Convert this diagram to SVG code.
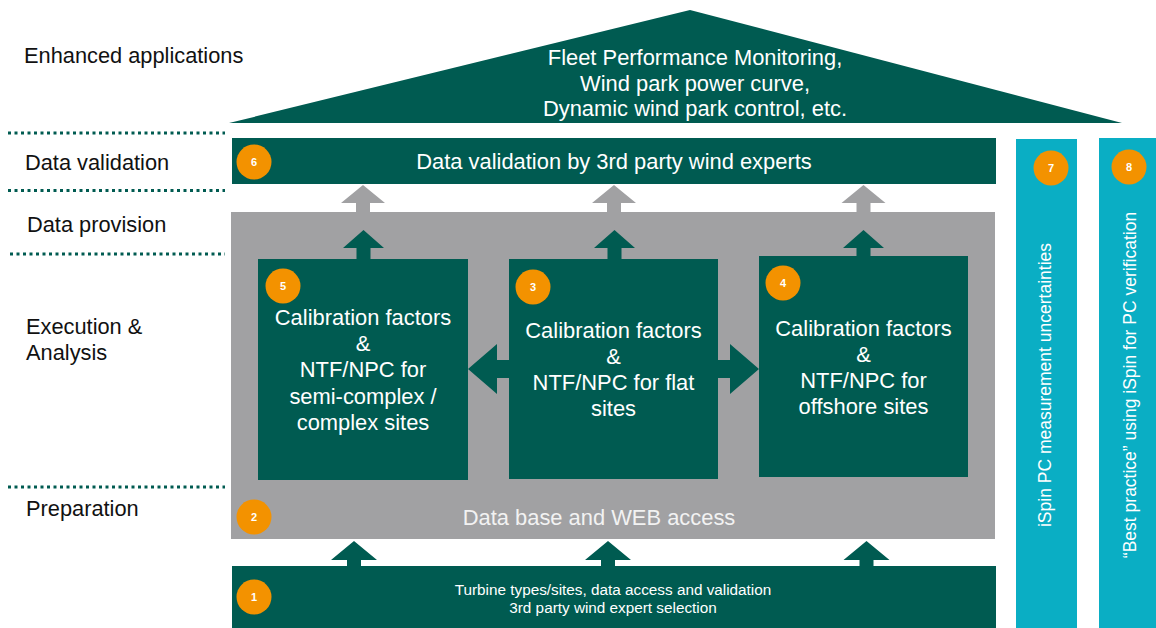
<svg xmlns="http://www.w3.org/2000/svg" width="1156" height="628" viewBox="0 0 1156 628">
<style>
.lbl{font-family:"Liberation Sans",Arial,sans-serif;font-size:21.8px;fill:#111}
.wt{font-family:"Liberation Sans",Arial,sans-serif;font-size:21.9px;fill:#fff;text-anchor:middle}
.sm{font-family:"Liberation Sans",Arial,sans-serif;font-size:15.3px;fill:#fff;text-anchor:middle}
.vt{font-family:"Liberation Sans",Arial,sans-serif;font-size:17.5px;fill:#fff;text-anchor:middle}
.num{font-family:"Liberation Sans",Arial,sans-serif;font-size:11px;font-weight:bold;fill:#fff;text-anchor:middle}
.dg{fill:#005B51}
.gr{fill:#A1A1A3}
.cy{fill:#0AAEC4}
.or{fill:#F39200}
.dot{stroke:#005B51;stroke-width:3;stroke-dasharray:3 3.5;fill:none}
</style>
<g id="labels">
<text class="lbl" x="24" y="63">Enhanced applications</text>
<text class="lbl" x="25" y="170">Data validation</text>
<text class="lbl" x="27" y="232">Data provision</text>
<text class="lbl" x="26" y="334">Execution &amp;</text>
<text class="lbl" x="26" y="360">Analysis</text>
<text class="lbl" x="26" y="516">Preparation</text>
<line class="dot" x1="8" y1="133" x2="225" y2="133"/>
<line class="dot" x1="8" y1="190.5" x2="225" y2="190.5"/>
<line class="dot" x1="10" y1="254" x2="225" y2="254"/>
<line class="dot" x1="8" y1="487" x2="225" y2="487"/>
</g>
<g id="roof">
<polygon class="dg" points="229,123 690,10 1122,123"/>
<text class="wt" x="695" y="65">Fleet Performance Monitoring,</text>
<text class="wt" x="695" y="90.5">Wind park power curve,</text>
<text class="wt" x="695" y="116">Dynamic wind park control, etc.</text>
</g>
<g id="node6">
<rect class="dg" x="232" y="138" width="764" height="46"/>
<circle class="or" cx="254" cy="162" r="17.5"/>
<text class="num" x="254" y="166">6</text>
<text class="wt" x="614" y="169">Data validation by 3rd party wind experts</text>
</g>
<g id="node2">
<rect class="gr" x="231" y="212" width="764" height="327"/>
<circle class="or" cx="254" cy="517" r="17.5"/>
<text class="num" x="254" y="521">2</text>
<text class="wt" x="599" y="525" style="fill:#f2f2f2">Data base and WEB access</text>
</g>
<g id="node1">
<rect class="dg" x="232" y="566" width="764" height="62"/>
<circle class="or" cx="254" cy="597" r="17.5"/>
<text class="num" x="254" y="601">1</text>
<text class="sm" x="613" y="595">Turbine types/sites, data access and validation</text>
<text class="sm" x="613" y="613">3rd party wind expert selection</text>
</g>
<g id="connectors">
<polygon class="gr" points="363,185 385,203 370,203 370,212 356,212 356,203 341,203"/>
<polygon class="gr" points="614,185 636,203 621,203 621,212 607,212 607,203 592,203"/>
<polygon class="gr" points="863.5,185 885.5,203 870.5,203 870.5,212 856.5,212 856.5,203 841.5,203"/>
<polygon class="dg" points="363.5,230 384,248 370.5,248 370.5,260 356.5,260 356.5,248 343,248"/>
<polygon class="dg" points="614.5,230 635,248 621.5,248 621.5,260 607.5,260 607.5,248 594,248"/>
<polygon class="dg" points="863.5,230 884,248 870.5,248 870.5,257 856.5,257 856.5,248 843,248"/>
<polygon class="dg" points="468,369 497,344 497,360 730,360 730,344 759,369 730,394 730,378 497,378 497,394"/>
<polygon class="dg" points="354,541 377,560 361,560 361,566 347,566 347,560 331,560"/>
<polygon class="dg" points="608,541 631,560 615,560 615,566 601,566 601,560 585,560"/>
<polygon class="dg" points="866.5,541 889.5,560 873.5,560 873.5,566 859.5,566 859.5,560 843.5,560"/>
</g>
<g id="node5">
<rect class="dg" x="258" y="259" width="210" height="221"/>
<circle class="or" cx="283" cy="286" r="17.5"/>
<text class="num" x="283" y="290">5</text>
<text class="wt" x="363" y="325">Calibration factors</text>
<text class="wt" x="363" y="351">&amp;</text>
<text class="wt" x="363" y="377">NTF/NPC for</text>
<text class="wt" x="363" y="403.5">semi-complex /</text>
<text class="wt" x="363" y="429.5">complex sites</text>
</g>
<g id="node3">
<rect class="dg" x="509" y="259" width="209" height="220"/>
<circle class="or" cx="533" cy="287" r="17.5"/>
<text class="num" x="533" y="291">3</text>
<text class="wt" x="613.5" y="337.5">Calibration factors</text>
<text class="wt" x="613.5" y="363.5">&amp;</text>
<text class="wt" x="613.5" y="390">NTF/NPC for flat</text>
<text class="wt" x="613.5" y="416">sites</text>
</g>
<g id="node4">
<rect class="dg" x="759" y="256" width="209" height="221"/>
<circle class="or" cx="783" cy="283" r="17.5"/>
<text class="num" x="783" y="287">4</text>
<text class="wt" x="863.5" y="335.5">Calibration factors</text>
<text class="wt" x="863.5" y="362">&amp;</text>
<text class="wt" x="863.5" y="388">NTF/NPC for</text>
<text class="wt" x="863.5" y="414">offshore sites</text>
</g>
<g id="node7">
<rect class="cy" x="1016" y="139" width="61" height="489"/>
<circle class="or" cx="1051" cy="168" r="17.5"/>
<text class="num" x="1051" y="172">7</text>
<text class="vt" transform="translate(1051,385) rotate(-90)" x="0" y="0">iSpin PC measurement uncertainties</text>
</g>
<g id="node8">
<rect class="cy" x="1099" y="138" width="57" height="490"/>
<circle class="or" cx="1129" cy="167" r="17.5"/>
<text class="num" x="1129" y="171">8</text>
<text class="vt" transform="translate(1136,385) rotate(-90)" x="0" y="0">“Best practice” using iSpin for PC verification</text>
</g>
</svg>
